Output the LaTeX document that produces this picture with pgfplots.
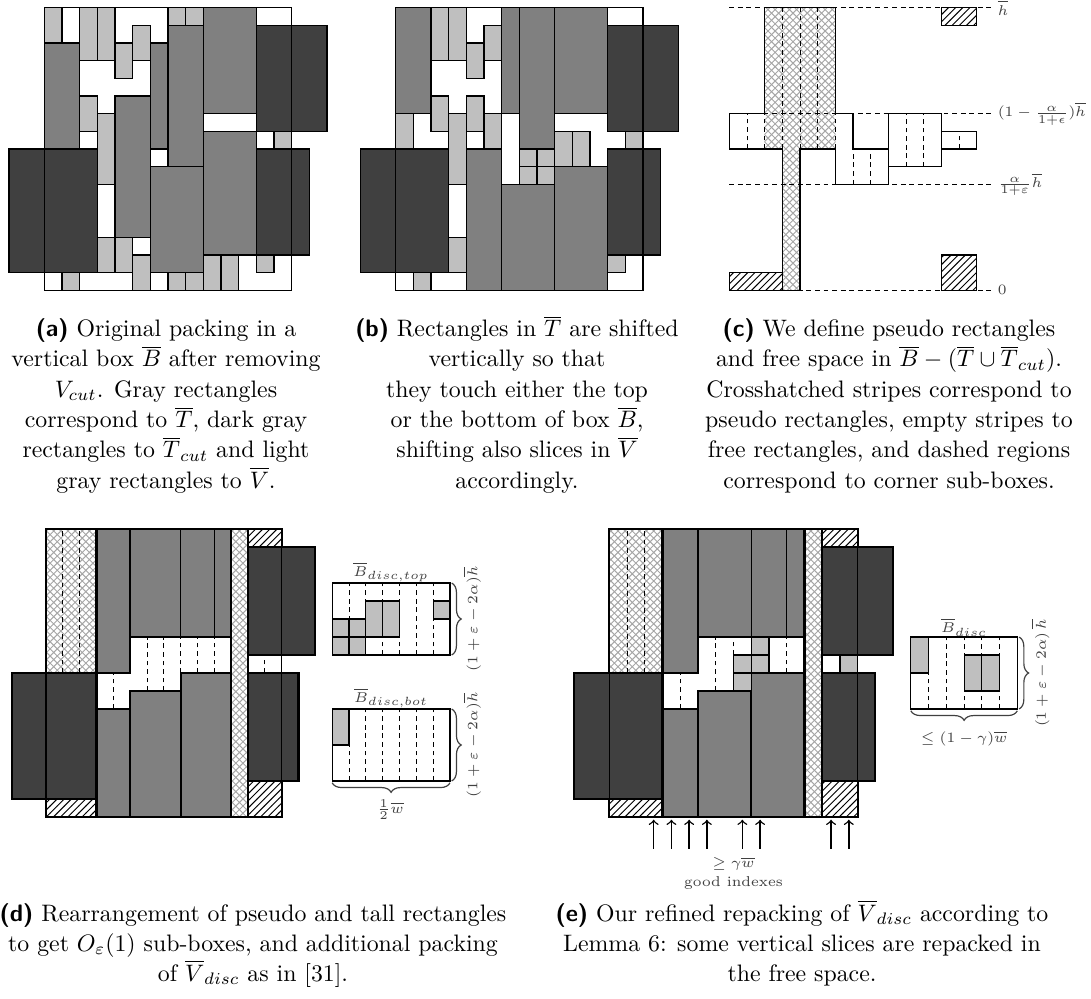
\documentclass[border=0pt]{standalone}
\usepackage{pgfplots}
\pgfplotsset{compat=1.18}
\usetikzlibrary{patterns,decorations.pathreplacing}

\definecolor{cdark}{gray}{0.25}
\definecolor{cmid}{gray}{0.5}
\definecolor{clight}{gray}{0.75}

% rectangle [x1,x2]x[y1,y2] and a straight segment, both as pgfplots plots
\newcommand{\R}[5][]{\addplot[#1] coordinates {(#2,#3) (#4,#3) (#4,#5) (#2,#5)} --cycle;}
\newcommand{\Ln}[5][]{\addplot[#1] coordinates {(#2,#3) (#4,#5)};}

\tikzset{
  thinb/.style={draw=black, line width=0.5pt},
  thkb/.style={draw=black, line width=0.9pt},
  sV/.style={fill=clight, thinb},
  sT/.style={fill=cmid, thinb},
  sC/.style={fill=cdark, thinb},
  dT/.style={fill=cmid, thkb},
  dC/.style={fill=cdark, thkb},
  dX/.style={pattern=crosshatch, pattern color=black!35, thkb},
  dH/.style={pattern=north east lines, thkb},
  dsh/.style={draw=black, line width=0.4pt, dash pattern=on 2pt off 1.6pt},
  lab/.style={font=\fontsize{6}{7.2}\selectfont, text=black!75, inner sep=0.5pt},
  captxt/.style={anchor=base, inner sep=0pt, font=\fontsize{10}{12}\selectfont},
  brc/.style={decorate, decoration={brace, amplitude=4pt}, line width=0.5pt, black!75},
}
\pgfplotsset{pan/.style={hide axis, clip=false, anchor=origin,
    xmin=-2, xmax=16, ymin=0, ymax=16}}

\begin{document}
\begin{tikzpicture}[x=0.42pt, y=-0.42pt]
\useasboundingbox (0,0) rectangle (1091,999);

% ---------------- (a)
\begin{axis}[pan, at={(18.62pt,-121.94pt)}, x=7.42pt, y=7.42pt]
\R[sV]{0}{14}{1}{16}
\R[sV]{2}{13}{3}{16}
\R[sV]{3}{13}{4}{16}
\R[sV]{4}{12}{5}{14}
\R[sV]{5}{13}{6}{15}
\R[sV]{7}{15}{8}{16}
\R[sV]{8}{15}{9}{16}
\R[sV]{2}{9}{3}{11}
\R[sV]{3}{6}{4}{10}
\R[sV]{13}{8}{14}{9}
\R[sV]{3}{1}{4}{3}
\R[sV]{4}{1}{5}{3}
\R[sV]{5}{0}{6}{2}
\R[sV]{1}{0}{2}{1}
\R[sV]{7}{0}{8}{1}
\R[sV]{8}{0}{9}{1}
\R[sV]{9}{0}{10}{2}
\R[sV]{10}{0}{11}{2}
\R[sV]{12}{1}{13}{2}
\R[sT]{0}{8}{2}{14}
\R[sT]{4}{3}{6}{11}
\R[sT]{6}{8}{7}{14}
\R[sT]{7}{7}{9}{15}
\R[sT]{9}{10}{12}{16}
\R[sT]{6}{1}{9}{7}
\R[sT]{9}{2}{12}{9}
\R[sC]{12}{9}{16}{15}
\R[sC]{-2}{1}{3}{8}
\R[sC]{12}{2}{15}{8}
\R[thinb, fill=none]{0}{0}{14}{16}
\end{axis}

% ---------------- (b)
\begin{axis}[pan, at={(166.18pt,-121.94pt)}, x=7.42pt, y=7.42pt]
\R[sT]{0}{10}{2}{16}
\R[sT]{6}{10}{7}{16}
\R[sT]{7}{8}{9}{16}
\R[sT]{9}{10}{12}{16}
\R[sT]{4}{0}{6}{8}
\R[sT]{6}{0}{9}{6}
\R[sT]{9}{0}{12}{7}
\R[sV]{2}{13}{3}{16}
\R[sV]{3}{13}{4}{16}
\R[sV]{4}{12}{5}{14}
\R[sV]{5}{13}{6}{15}
\R[sV]{2}{9}{3}{11}
\R[sV]{4}{9}{5}{11}
\R[sV]{5}{8}{6}{10}
\R[sV]{0}{8}{1}{10}
\R[sV]{3}{6}{4}{10}
\R[sV]{3}{1}{4}{3}
\R[sV]{1}{0}{2}{1}
\R[sV]{13}{8}{14}{9}
\R[sV]{12}{1}{13}{2}
\R[sV]{7}{7}{8}{8}
\R[sV]{8}{7}{9}{8}
\R[sV]{7}{6}{8}{7}
\R[sV]{8}{6}{9}{7}
\R[sV]{9}{7}{10}{9}
\R[sV]{10}{7}{11}{9}
\R[sC]{12}{9}{16}{15}
\R[sC]{-2}{1}{3}{8}
\R[sC]{12}{2}{15}{8}
\R[thinb, fill=none]{0}{0}{14}{16}
\end{axis}

% ---------------- (c)
\begin{axis}[pan, at={(306.32pt,-121.94pt)}, x=7.42pt, y=7.42pt, xmin=0]
\R[draw=none, pattern=crosshatch, pattern color=black!35]{2}{8}{6}{16}
\R[draw=none, pattern=crosshatch, pattern color=black!35]{3}{0}{4}{8}
\R[pattern=north east lines, draw=black, line width=0.6pt]{12}{15}{14}{16}
\R[pattern=north east lines, draw=black, line width=0.6pt]{0}{0}{3}{1}
\R[pattern=north east lines, draw=black, line width=0.6pt]{12}{0}{14}{2}
\Ln[dsh]{0}{16}{14.8}{16}
\Ln[dsh]{0}{10}{14.8}{10}
\Ln[dsh]{0}{6}{14.8}{6}
\Ln[dsh]{0}{0}{14.8}{0}
\Ln[dsh]{1}{8}{1}{10}
\Ln[dsh]{2}{8}{2}{10}
\Ln[dsh]{3}{8}{3}{16}
\Ln[dsh]{4}{8}{4}{16}
\Ln[dsh]{5}{8}{5}{16}
\Ln[dsh]{6}{8}{6}{10}
\Ln[dsh]{7}{6}{7}{8}
\Ln[dsh]{8}{6}{8}{8}
\Ln[dsh]{10}{7}{10}{10}
\Ln[dsh]{11}{7}{11}{10}
\Ln[dsh]{13}{8}{13}{9}
\addplot[draw=black, line width=0.6pt] coordinates {(0,10) (0,8) (3,8) (3,0) (4,0) (4,8) (6,8) (6,6) (9,6) (9,10) (12,10) (12,7) (9,7)};
\addplot[draw=black, line width=0.6pt] coordinates {(0,10) (2,10) (2,16) (6,16) (6,10) (7,10) (7,8) (9,8)};
\addplot[draw=black, line width=0.6pt] coordinates {(12,9) (14,9) (14,8) (12,8)};
\node[lab, anchor=west] at (axis cs:15.1,16) {$\overline{h}$};
\node[lab, anchor=west] at (axis cs:15.1,10) {$(1-\frac{\alpha}{1+\epsilon})\overline{h}$};
\node[lab, anchor=west] at (axis cs:15.1,6) {$\frac{\alpha}{1+\varepsilon}\overline{h}$};
\node[lab, anchor=west] at (axis cs:15.1,0) {$0$};
\end{axis}

% ---------------- (d)
\begin{axis}[pan, at={(19.32pt,-343.14pt)}, x=7.07pt, y=7.56pt, xmax=25]
\R[dX]{0}{8}{3}{16}
\Ln[dsh]{1}{8}{1}{16}
\Ln[dsh]{2}{8}{2}{16}
\R[dT]{3}{8}{5}{16}
\R[sT]{5}{10}{8}{16}
\R[sT]{8}{10}{10}{16}
\R[sT]{10}{10}{11}{16}
\R[thkb]{5}{10}{11}{16}
\R[dX]{11}{0}{12}{16}
\R[dH]{12}{15}{14}{16}
\R[dC]{12}{9}{16}{15}
\Ln[dsh]{13}{8}{13}{9}
\R[dC]{12}{2}{15}{8}
\R[dH]{12}{0}{14}{2}
\R[dC]{-2}{1}{3}{8}
\R[dH]{0}{0}{3}{1}
\R[dT]{3}{0}{5}{6}
\Ln[dsh]{4}{6}{4}{8}
\R[dT]{5}{0}{8}{7}
\R[dT]{8}{0}{11}{8}
\Ln[dsh]{6}{7}{6}{10}
\Ln[dsh]{7}{7}{7}{10}
\Ln[dsh]{8}{8}{8}{10}
\Ln[dsh]{9}{8}{9}{10}
\Ln[dsh]{10}{8}{10}{10}
\R[thinb, fill=none]{0}{0}{14}{16}
% B_disc,top
\Ln[dsh]{18}{9}{18}{13}
\Ln[dsh]{19}{9}{19}{13}
\Ln[dsh]{20}{9}{20}{13}
\Ln[dsh]{21}{9}{21}{13}
\Ln[dsh]{22}{9}{22}{13}
\Ln[dsh]{23}{9}{23}{13}
\R[sV]{17}{9}{18}{10}
\R[sV]{18}{9}{19}{10}
\R[sV]{17}{10}{18}{11}
\R[sV]{18}{10}{19}{11}
\R[sV]{19}{10}{20}{12}
\R[sV]{20}{10}{21}{12}
\R[sV]{23}{11}{24}{12}
\R[thinb, fill=none]{17}{9}{24}{13}
% B_disc,bot
\Ln[dsh]{18}{2}{18}{6}
\Ln[dsh]{19}{2}{19}{6}
\Ln[dsh]{20}{2}{20}{6}
\Ln[dsh]{21}{2}{21}{6}
\Ln[dsh]{22}{2}{22}{6}
\Ln[dsh]{23}{2}{23}{6}
\R[sV]{17}{4}{18}{6}
\R[thinb, fill=none]{17}{2}{24}{6}
\draw[brc] (axis cs:24.1,13) -- (axis cs:24.1,9);
\draw[brc] (axis cs:24.1,6) -- (axis cs:24.1,2);
\draw[brc] (axis cs:24,1.9) -- (axis cs:17,1.9);
\node[lab] at (axis cs:20.5,13.6) {$\overline{B}_{disc,top}$};
\node[lab] at (axis cs:20.5,6.6) {$\overline{B}_{disc,bot}$};
\node[lab, rotate=90] at (axis cs:25.3,11) {$(1+\varepsilon-2\alpha)\overline{h}$};
\node[lab, rotate=90] at (axis cs:25.3,4) {$(1+\varepsilon-2\alpha)\overline{h}$};
\node[lab] at (axis cs:20.45,0.4) {$\frac{1}{2}\overline{w}$};
\end{axis}

% ---------------- (e)
\begin{axis}[pan, at={(255.92pt,-343.14pt)}, x=7.45pt, y=7.56pt, xmax=25]
\R[dX]{0}{8}{3}{16}
\Ln[dsh]{1}{8}{1}{16}
\Ln[dsh]{2}{8}{2}{16}
\R[dT]{3}{8}{5}{16}
\R[sT]{5}{10}{8}{16}
\R[sT]{8}{10}{10}{16}
\R[sT]{10}{10}{11}{16}
\R[thkb]{5}{10}{11}{16}
\R[dX]{11}{0}{12}{16}
\R[dH]{12}{15}{14}{16}
\R[dC]{12}{9}{16}{15}
\R[sV]{13}{8}{14}{9}
\R[dC]{12}{2}{15}{8}
\R[dH]{12}{0}{14}{2}
\R[dC]{-2}{1}{3}{8}
\R[dH]{0}{0}{3}{1}
\R[dT]{3}{0}{5}{6}
\Ln[dsh]{4}{6}{4}{8}
\R[dT]{5}{0}{8}{7}
\R[dT]{8}{0}{11}{8}
\Ln[dsh]{6}{7}{6}{10}
\Ln[dsh]{7}{9}{7}{10}
\Ln[dsh]{10}{8}{10}{10}
\R[sV]{8}{9}{9}{10}
\R[sV]{7}{8}{8}{9}
\R[sV]{8}{8}{9}{9}
\R[sV]{7}{7}{8}{8}
\R[thinb, fill=none]{0}{0}{14}{16}
% good indexes
\addplot[->, line width=0.6pt] coordinates {(2.5,-1.75) (2.5,-0.15)};
\addplot[->, line width=0.6pt] coordinates {(3.5,-1.75) (3.5,-0.15)};
\addplot[->, line width=0.6pt] coordinates {(4.5,-1.75) (4.5,-0.15)};
\addplot[->, line width=0.6pt] coordinates {(5.5,-1.75) (5.5,-0.15)};
\addplot[->, line width=0.6pt] coordinates {(7.5,-1.75) (7.5,-0.15)};
\addplot[->, line width=0.6pt] coordinates {(8.5,-1.75) (8.5,-0.15)};
\addplot[->, line width=0.6pt] coordinates {(12.5,-1.75) (12.5,-0.15)};
\addplot[->, line width=0.6pt] coordinates {(13.5,-1.75) (13.5,-0.15)};
\node[lab] at (axis cs:7,-2.6) {$\geq\gamma\overline{w}$};
\node[lab] at (axis cs:7,-3.65) {good indexes};
% B_disc
\Ln[dsh]{18}{6}{18}{10}
\Ln[dsh]{19}{6}{19}{10}
\Ln[dsh]{20}{6}{20}{10}
\Ln[dsh]{21}{6}{21}{10}
\Ln[dsh]{22}{6}{22}{10}
\R[sV]{17}{8}{18}{10}
\R[sV]{20}{7}{21}{9}
\R[sV]{21}{7}{22}{9}
\R[thinb, fill=none]{17}{6}{23}{10}
\draw[brc] (axis cs:23.1,10) -- (axis cs:23.1,6);
\draw[brc] (axis cs:23,5.9) -- (axis cs:17,5.9);
\node[lab] at (axis cs:20,10.55) {$\overline{B}_{disc}$};
\node[lab, rotate=90] at (axis cs:24.3,8) {$(1+\varepsilon-2\alpha)\,\overline{h}$};
\node[lab] at (axis cs:20,4.35) {$\leq(1-\gamma)\overline{w}$};
\end{axis}

% ---------------- captions
\node[captxt] at (166,336.7) {\textsf{\bfseries (a)} Original packing in a};
\node[captxt] at (166,367.0) {vertical box $\overline{B}$ after removing};
\node[captxt] at (166,397.3) {$V_{cut}$. Gray rectangles};
\node[captxt] at (166,427.6) {correspond to $\overline{T}$, dark gray};
\node[captxt] at (166,457.9) {rectangles to $\overline{T}_{cut}$ and light};
\node[captxt] at (166,488.2) {gray rectangles to $\overline{V}$.};

\node[captxt] at (517,336.7) {\textsf{\bfseries (b)} Rectangles in $\overline{T}$ are shifted};
\node[captxt] at (517,367.0) {vertically so that};
\node[captxt] at (517,397.3) {they touch either the top};
\node[captxt] at (517,427.6) {or the bottom of box $\overline{B}$,};
\node[captxt] at (517,457.9) {shifting also slices in $\overline{V}$};
\node[captxt] at (517,488.2) {accordingly.};

\node[captxt] at (889,336.7) {\textsf{\bfseries (c)} We define pseudo rectangles};
\node[captxt] at (889,367.0) {and free space in $\overline{B}-(\overline{T}\cup\overline{T}_{cut})$.};
\node[captxt] at (889,397.3) {Crosshatched stripes correspond to};
\node[captxt] at (889,427.6) {pseudo rectangles, empty stripes to};
\node[captxt] at (889,457.9) {free rectangles, and dashed regions};
\node[captxt] at (889,488.2) {correspond to corner sub-boxes.};

\node[captxt] at (253,921) {\textsf{\bfseries (d)} Rearrangement of pseudo and tall rectangles};
\node[captxt] at (253,951) {to get $O_\varepsilon(1)$ sub-boxes, and additional packing};
\node[captxt] at (253,981) {of $\overline{V}_{disc}$ as in [31].};

\node[captxt] at (802,921) {\textsf{\bfseries (e)} Our refined repacking of $\overline{V}_{disc}$ according to};
\node[captxt] at (802,951) {Lemma 6: some vertical slices are repacked in};
\node[captxt] at (802,981) {the free space.};
\end{tikzpicture}
\end{document}
